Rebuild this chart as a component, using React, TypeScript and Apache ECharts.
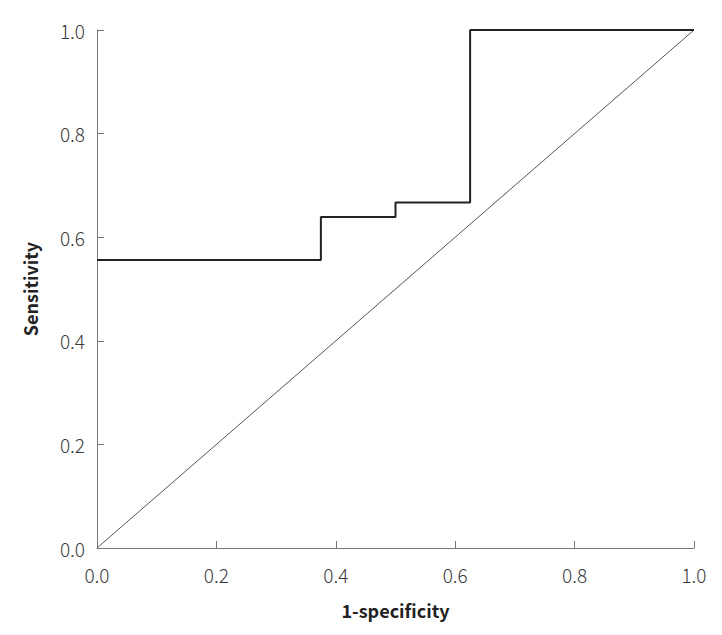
import React, { useEffect, useRef } from "react";
import * as echarts from "echarts";

const fpr = [0, 0.375, 0.375, 0.5, 0.5, 0.625, 0.625, 1.0];
const tpr = [0.556, 0.556, 0.639, 0.639, 0.667, 0.667, 1.0, 1.0];
const refX = [0, 1];
const refY = [0, 1];
const xTitle = "1-specificity";
const yTitle = "Sensitivity";

const FONT = "'Noto Sans CJK KR', 'Noto Sans', sans-serif";

export default function App() {
  const ref = useRef<HTMLDivElement>(null);
  useEffect(() => {
    if (!ref.current) return;
    const chart = echarts.init(ref.current, null, { renderer: "svg" });
    const axisCommon = {
      type: "value",
      min: 0,
      max: 1,
      interval: 0.2,
      splitLine: { show: false },
      axisLine: { show: true, lineStyle: { color: "#777", width: 1 } },
      axisTick: { show: true, inside: true, length: 7, lineStyle: { color: "#777" } },
      axisLabel: {
        color: "#3a3a3a",
        fontSize: 19,
        fontWeight: 300,
        fontFamily: FONT,
        formatter: (v: number) => v.toFixed(1),
      },
      nameLocation: "middle",
      nameTextStyle: { color: "#222", fontSize: 18, fontWeight: "bold", fontFamily: FONT },
    };
    chart.setOption({
      animation: false,
      grid: { left: 97, right: 28, top: 30, bottom: 87 },
      xAxis: { ...axisCommon, name: xTitle, nameGap: 53, axisLabel: { ...axisCommon.axisLabel, margin: 17 } },
      yAxis: { ...axisCommon, name: yTitle, nameGap: 58, axisLabel: { ...axisCommon.axisLabel, margin: 12 } },
      series: [
        {
          type: "line",
          data: refX.map((x, i) => [x, refY[i]]),
          symbol: "none",
          lineStyle: { color: "#555", width: 1 },
          silent: true,
        },
        {
          type: "line",
          data: fpr.map((x, i) => [x, tpr[i]]),
          symbol: "none",
          lineStyle: { color: "#222", width: 2 },
          silent: true,
        },
      ],
    });
    return () => chart.dispose();
  }, []);
  return <div ref={ref} style={{ width: 722, height: 635, position: "absolute", left: 0, top: 0 }} />;
}
